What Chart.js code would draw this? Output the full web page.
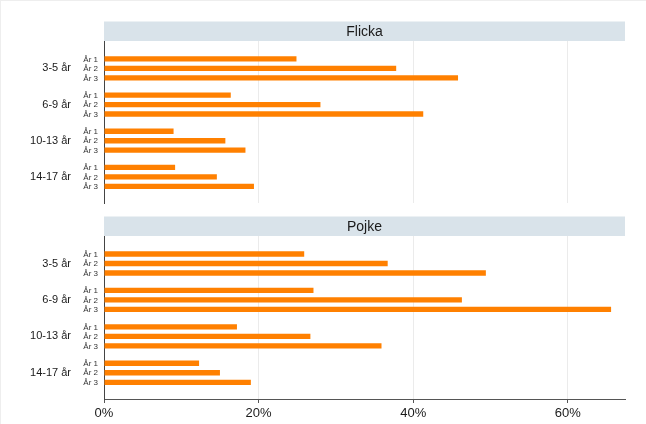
<!DOCTYPE html>
<html>
<head>
<meta charset="utf-8">
<script src="https://cdn.jsdelivr.net/npm/chart.js@4/dist/chart.umd.min.js"></script>
<style>
  html, body { margin: 0; padding: 0; background: #ffffff; }
  #wrap { position: relative; width: 646px; height: 424px; overflow: hidden; }
  #wrap canvas { position: absolute; left: 0; }
  #frame { position: absolute; left: 0; top: 0; width: 646px; height: 424px; box-sizing: border-box;
           border-top: 1px solid #eeeeee; border-left: 1px solid #eeeeee; pointer-events: none; }
</style>
</head>
<body>
<div id="wrap">
  <canvas id="c1" width="646" height="210" style="top:0px"></canvas>
  <canvas id="c2" width="646" height="214" style="top:210px"></canvas>
  <div id="frame"></div>
</div>
<script>
// ---- data ----
const ageGroups = ['3-5 år', '6-9 år', '10-13 år', '14-17 år'];
const yearLabels = ['År 1', 'År 2', 'År 3'];
const panelTitles = ['Flicka', 'Pojke'];

const flickaAr1 = [24.9, 16.4, 9.0, 9.2];
const flickaAr2 = [37.8, 28.0, 15.7, 14.6];
const flickaAr3 = [45.8, 41.3, 18.3, 19.4];

const pojkeAr1 = [25.9, 27.1, 17.2, 12.3];
const pojkeAr2 = [36.7, 46.3, 26.7, 15.0];
const pojkeAr3 = [49.4, 65.6, 35.9, 19.0];

const xTickValues = [0, 20, 40, 60];
const xMax = 67.4;

// ---- styling ----
const FONT = "'Liberation Sans', Arial, Helvetica, sans-serif";
const BAR_COLOR = '#ff8000';
const STRIP_COLOR = '#d9e3ea';

function makeDatasets(seriesList) {
  return seriesList.map((vals, i) => ({
    label: yearLabels[i],
    data: vals.map((v, j) => ({ x: v, y: j + 1 })),
    backgroundColor: BAR_COLOR,
    borderWidth: 0,
    categoryPercentage: 0.785,
    barPercentage: 0.56
  }));
}

const stripPlugin = {
  id: 'strip',
  beforeDatasetsDraw(chart, args, opts) {
    const { ctx, chartArea } = chart;
    const h = 19.5;
    ctx.save();
    ctx.fillStyle = STRIP_COLOR;
    ctx.fillRect(chartArea.left, chartArea.top - h, chartArea.right - chartArea.left, h);
    ctx.fillStyle = '#1a1a1a';
    ctx.font = '14px ' + FONT;
    ctx.textAlign = 'center';
    ctx.textBaseline = 'middle';
    ctx.fillText(opts.title, (chartArea.left + chartArea.right) / 2, chartArea.top - h / 2 + 0.5);
    ctx.restore();
  }
};

const yearLabelPlugin = {
  id: 'yearLabels',
  afterDatasetsDraw(chart) {
    const { ctx, chartArea } = chart;
    ctx.save();
    ctx.fillStyle = '#333333';
    ctx.font = '8px ' + FONT;
    ctx.textAlign = 'right';
    ctx.textBaseline = 'middle';
    chart.data.datasets.forEach((ds, i) => {
      const meta = chart.getDatasetMeta(i);
      meta.data.forEach(el => {
        ctx.fillText(ds.label, chartArea.left - 6, el.y + 0.5);
      });
    });
    ctx.restore();
  }
};

function makeChart(canvasId, title, seriesList, showXAxis, padTop, padBottom) {
  return new Chart(document.getElementById(canvasId), {
    type: 'bar',
    data: { datasets: makeDatasets(seriesList) },
    options: {
      indexAxis: 'y',
      responsive: false,
      animation: false,
      events: [],
      layout: { padding: { left: 0, right: 21, top: padTop, bottom: padBottom } },
      plugins: {
        legend: { display: false },
        tooltip: { enabled: false },
        strip: { title: title }
      },
      scales: {
        x: {
          type: 'linear',
          min: 0,
          max: xMax,
          afterBuildTicks(scale) { scale.ticks = xTickValues.map(v => ({ value: v })); },
          afterFit(scale) {
            scale.height = showXAxis ? 25 : 0;
            scale.paddingLeft = 0; scale.paddingRight = 0;
          },
          grid: {
            display: true,
            color: '#ebebeb',
            lineWidth: 1,
            drawTicks: showXAxis,
            tickLength: 4,
            tickColor: '#555555'
          },
          border: { display: showXAxis, color: '#555555', width: 1 },
          ticks: {
            display: showXAxis,
            padding: 3,
            color: '#1a1a1a',
            font: { family: FONT, size: 13 },
            callback: v => v + '%'
          }
        },
        y: {
          type: 'linear',
          reverse: true,
          offset: false,
          min: 0.245,
          max: 4.72,
          afterBuildTicks(scale) { scale.ticks = ageGroups.map((_, i) => ({ value: i + 1 })); },
          afterFit(scale) {
            scale.width = 104;
            scale.paddingTop = 0; scale.paddingBottom = 0;
          },
          grid: { display: false, drawTicks: false, offset: false },
          border: { display: true, color: '#444444', width: 1 },
          ticks: {
            padding: 33,
            color: '#1a1a1a',
            font: { family: FONT, size: 11 },
            autoSkip: false,
            callback: v => ageGroups[Math.round(v) - 1] || ''
          }
        }
      }
    },
    plugins: [stripPlugin, yearLabelPlugin]
  });
}

makeChart('c1', panelTitles[0], [flickaAr1, flickaAr2, flickaAr3], false, 41, 7);
makeChart('c2', panelTitles[1], [pojkeAr1, pojkeAr2, pojkeAr3], true, 26, 0);
</script>
</body>
</html>
